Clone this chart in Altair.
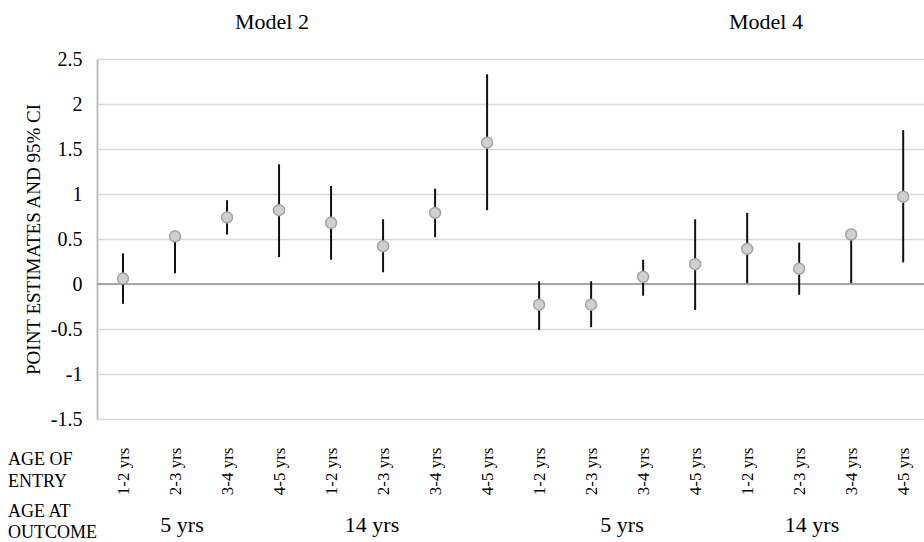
import altair as alt
import pandas as pd

# ---- data ----
models = ["Model 2"] * 8 + ["Model 4"] * 8
outcome_age = (["5 yrs"] * 4 + ["14 yrs"] * 4) * 2
entry_age = ["1-2 yrs", "2-3 yrs", "3-4 yrs", "4-5 yrs"] * 4
estimate = [0.06, 0.53, 0.74, 0.82, 0.68, 0.42, 0.79, 1.57,
            -0.23, -0.23, 0.08, 0.22, 0.39, 0.17, 0.55, 0.97]
ci_low = [-0.22, 0.12, 0.55, 0.30, 0.27, 0.13, 0.52, 0.82,
          -0.51, -0.48, -0.13, -0.29, 0.01, -0.12, 0.01, 0.24]
ci_high = [0.34, 0.57, 0.93, 1.33, 1.09, 0.72, 1.06, 2.33,
           0.03, 0.03, 0.27, 0.72, 0.79, 0.46, 0.58, 1.71]
y_ticks = [-1.5, -1, -0.5, 0, 0.5, 1, 1.5, 2, 2.5]

df = pd.DataFrame({
    "idx": list(range(len(estimate))),
    "model": models,
    "outcome": outcome_age,
    "entry": entry_age,
    "est": estimate,
    "lo": ci_low,
    "hi": ci_high,
})

FONT = "Liberation Serif"
W, H = 827, 360

label_array = "[" + ",".join("'%s'" % e for e in entry_age) + "]"

x_enc = alt.X(
    "idx:Q",
    scale=alt.Scale(domain=[-0.5, 15.4], nice=False, zero=False),
    axis=alt.Axis(
        values=list(range(len(estimate))),
        labelExpr=label_array + "[datum.value]",
        labelAngle=-90, labelAlign="right", labelBaseline="middle",
        labelPadding=28, labelFontSize=17, labelFont=FONT, labelColor="black",
        ticks=False, domain=False, grid=False, title=None,
    ),
)
y_scale = alt.Scale(domain=[-1.5, 2.5], nice=False, zero=False)

base = alt.Chart(df)

grid = base.mark_rule().encode(
    x=x_enc,
    y=alt.Y(
        "est:Q", scale=y_scale,
        axis=alt.Axis(
            values=y_ticks, grid=True, gridColor="#d9d9d9", gridWidth=1.5,
            domain=True, domainColor="#bfbfbf", domainWidth=2,
            ticks=False, labelPadding=15, labelFontSize=20, labelFont=FONT,
            labelColor="black", labelExpr="toString(datum.value)",
            title="POINT ESTIMATES AND 95% CI", titleFont=FONT,
            titleFontSize=19, titleFontWeight="normal", titleColor="black",
            titleX=-64, titleY=H / 2, titleAlign="center",
            titleBaseline="middle", titleAngle=-90,
        ),
    ),
    opacity=alt.value(0),
)

zero = alt.Chart(alt.Data(values=[{"z": 0}])).mark_rule(
    color="#a6a6a6", strokeWidth=2
).encode(y=alt.Y("z:Q", scale=y_scale))

bars = base.mark_rule(color="#111111", strokeWidth=2).encode(
    x="idx:Q",
    y=alt.Y("lo:Q", scale=y_scale),
    y2="hi:Q",
)

points = base.mark_point(
    shape="circle", filled=True, size=120, fill="#d0d0d0",
    stroke="#a3a3a3", strokeWidth=1.5, opacity=1,
).encode(x="idx:Q", y=alt.Y("est:Q", scale=y_scale))


def label(text, x, y, size, align="center"):
    return alt.Chart(alt.Data(values=[{"t": text}])).mark_text(
        font=FONT, fontSize=size, align=align, baseline="alphabetic",
        color="black",
    ).encode(x=alt.value(x), y=alt.value(y), text="t:N")


ox, oy = 97, 59  # plot origin used for annotation offsets
annotations = [
    label("Model 2", 272 - ox, 29 - oy, 22),
    label("Model 4", 766 - ox, 29 - oy, 22),
    label("AGE OF", 8 - ox, 465 - oy, 18, "left"),
    label("ENTRY", 8 - ox, 487 - oy, 18, "left"),
    label("AGE AT", 8 - ox, 517 - oy, 18, "left"),
    label("OUTCOME", 8 - ox, 538 - oy, 18, "left"),
    label("5 yrs", 182 - ox, 532 - oy, 22),
    label("14 yrs", 372 - ox, 532 - oy, 22),
    label("5 yrs", 622 - ox, 532 - oy, 22),
    label("14 yrs", 812 - ox, 532 - oy, 22),
]

chart = alt.layer(grid, zero, bars, points, *annotations).properties(
    width=W, height=H,
    autosize=alt.AutoSizeParams(type="none"),
    padding={"left": ox, "top": oy, "right": 0, "bottom": 542 - oy - H},
    background="white",
).configure_view(stroke=None)

chart.save("out.html", embed_options={"renderer": "svg", "actions": False})
